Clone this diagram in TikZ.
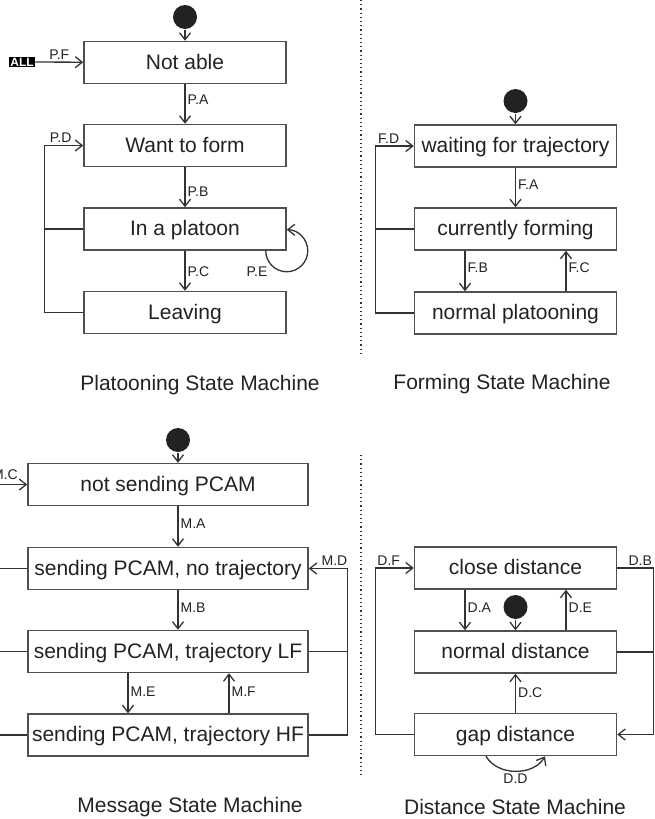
\documentclass[tikz,border=0pt]{standalone}
\usepackage{fontspec}
\setmainfont{Liberation Sans}
\usetikzlibrary{calc, positioning, arrows.meta}
\definecolor{linec}{HTML}{333333}
\definecolor{boxc}{HTML}{505050}
\definecolor{textc}{HTML}{222222}

\begin{document}
\begin{tikzpicture}[x=1pt, y=-1pt, color=linec, line width=1.3pt, >={Straight Barb[length=7pt,width=11pt]},
  stbox/.style={draw=boxc, line width=1.5pt, text=textc, minimum width=202pt, minimum height=42pt, inner sep=0pt,
    text height=16pt, text depth=3pt, font=\fontsize{21}{25}\selectfont},
  widebox/.style={stbox, minimum width=280pt},
  initdot/.style={circle, fill=textc, minimum size=24pt, inner sep=0pt},
  lbl/.style={text=textc, inner sep=1pt, font=\fontsize{14}{16}\selectfont},
  mtitle/.style={text=textc, font=\fontsize{21}{25}\selectfont},
  allbadge/.style={fill=black, text=white, inner sep=1pt, font=\bfseries\fontsize{12}{12}\selectfont}]
  \useasboundingbox (0,0) rectangle (655,819);

  % platooning
  \node[initdot] (p0) at (185,17) {};
  \node[stbox] (p1) at (185,62.5) {Not able};
  \node[stbox] (p2) at (185,145.5) {Want to form};
  \node[stbox] (p3) at (185,229) {In a platoon};
  \node[stbox] (p4) at (185,312.5) {Leaving};
  \node[allbadge] (all) at (22,62) {ALL};
  \node[mtitle] (tp) at (200,385) {Platooning State Machine};

  \draw[->] (p0) -- (p1);
  \draw[->] (all) -- node[lbl, above=1pt] {P.F} (p1);
  \draw[->] (p1) -- node[lbl, right=1pt, pos=0.4] {P.A} (p2);
  \draw[->] (p2) -- node[lbl, right=1pt, pos=0.6] {P.B} (p3);
  \draw[->] (p3) -- node[lbl, right=1pt, pos=0.52] {P.C} (p4);
  \draw[->] (p4.west) -- ++(-39,0) |- node[lbl, above=1pt, pos=0.71] {P.D} (p2.west);
  \draw (p3.west) -- ++(-39,0);
  \draw[->] ([xshift=-21pt]p3.south east) arc[start angle=180, end angle=-90, radius=21];
  \node[lbl] (pe) at (257,272) {P.E};

  % forming
  \node[initdot] (f0) at (515.5,101) {};
  \node[stbox] (f1) at (515.5,146) {waiting for trajectory};
  \node[stbox] (f2) at (515.5,229) {currently forming};
  \node[stbox] (f3) at (515.5,313) {normal platooning};
  \node[mtitle] (tf) at (502,384) {Forming State Machine};

  \draw[->] (f0) -- (f1);
  \draw[->] (f1) -- node[lbl, right=1pt, pos=0.44] {F.A} (f2);
  \draw[->] ([xshift=-50.5pt]f2.south) -- node[lbl, right=1pt, pos=0.43] {F.B} ([xshift=-50.5pt]f3.north);
  \draw[->] ([xshift=50.5pt]f3.north) -- node[lbl, right=1pt, pos=0.57] {F.C} ([xshift=50.5pt]f2.south);
  \draw[->] (f3.west) -- ++(-38,0) |- node[lbl, above=1pt, pos=0.67] {F.D} (f1.west);
  \draw (f2.west) -- ++(-38,0);

  % message
  \node[initdot] (m0) at (178,440) {};
  \node[widebox] (m1) at (168,484.5) {not sending PCAM};
  \node[widebox] (m2) at (168,568.5) {sending PCAM, no trajectory};
  \node[widebox] (m3) at (168,651.5) {sending PCAM, trajectory LF};
  \node[widebox] (m4) at (168,735) {sending PCAM, trajectory HF};
  \coordinate (mc) at (0,484.5);
  \node[mtitle] (tm) at (190,807) {Message State Machine};

  \draw[->] (m0) -- (m1.north -| m0);
  \draw[->] (mc) -- node[lbl, above=3pt, pos=0.18] {M.C} (m1);
  \draw[->] (m1.south -| m0) -- node[lbl, right=1pt, pos=0.43] {M.A} (m2.north -| m0);
  \draw[->] (m2.south -| m0) -- node[lbl, right=1pt, pos=0.43] {M.B} (m3.north -| m0);
  \draw[->] ([xshift=-40pt]m3.south) -- node[lbl, right=1pt, pos=0.45] {M.E} ([xshift=-40pt]m4.north);
  \draw[->] ([xshift=61pt]m4.north) -- node[lbl, right=1pt, pos=0.55] {M.F} ([xshift=61pt]m3.south);
  \draw[->] (m4.east) -- ++(39,0) |- node[lbl, above=1pt, pos=0.67] {M.D} (m2.east);
  \draw (m3.east) -- ++(39,0);
  \draw (m2.west) -- (m2.west -| mc);
  \draw (m3.west) -- (m3.west -| mc);
  \draw (m4.west) -- (m4.west -| mc);

  % distance
  \node[initdot] (d0) at (515.5,607) {};
  \node[stbox] (d1) at (515.5,568) {close distance};
  \node[stbox] (d2) at (515.5,652) {normal distance};
  \node[stbox] (d3) at (515.5,734.5) {gap distance};
  \node[mtitle] (td) at (515,807) {Distance State Machine};

  \draw[->] (d0) -- (d2);
  \draw[->] ([xshift=-50.5pt]d1.south) -- node[lbl, right=1pt, pos=0.45] {D.A} ([xshift=-50.5pt]d2.north);
  \draw[->] ([xshift=50.5pt]d2.north) -- node[lbl, right=1pt, pos=0.55] {D.E} ([xshift=50.5pt]d1.south);
  \draw[->] (d3) -- node[lbl, right=1pt, pos=0.52] {D.C} (d2);
  \draw[->] (d3.west) -- ++(-38,0) |- node[lbl, above=1pt, pos=0.67] {D.F} (d1.west);
  \draw[->] (d1.east) -- node[lbl, above=1pt, pos=0.64] {D.B} ++(36,0) |- (d3.east);
  \draw (d2.east) -- ++(36,0);
  \draw[->] ([xshift=-29.5pt]d3.south) to[out=-60, in=-120] node[lbl, below=1pt] {D.D} ([xshift=29.5pt]d3.south);

  % separators
  \draw[line width=1.2pt, dash pattern=on 1.2pt off 3pt] (361,0) -- (361,355);
  \draw[line width=1.2pt, dash pattern=on 1.2pt off 3pt] (361,455) -- (361,775);
\end{tikzpicture}
\end{document}
